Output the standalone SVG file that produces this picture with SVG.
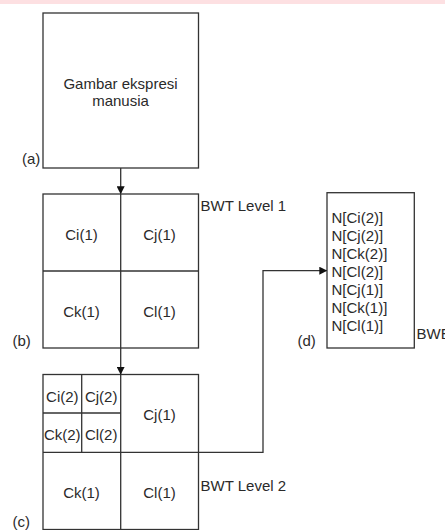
<svg xmlns="http://www.w3.org/2000/svg" width="445" height="530" viewBox="0 0 445 530">
<style>
.box{fill:#fff;stroke:#333;stroke-width:1.3}
.ln{fill:none;stroke:#333;stroke-width:1.3}
text{font-family:"Liberation Sans",Arial,sans-serif;font-size:15px;fill:#2a2a2a}
.c{text-anchor:middle}
</style>
<defs>
<marker id="ah" viewBox="0 0 10 10" refX="9" refY="5" markerWidth="8" markerHeight="8" markerUnits="userSpaceOnUse" orient="auto">
<path d="M0,0 L10,5 L0,10 Z" fill="#111"/>
</marker>
</defs>
<rect x="0" y="0" width="445" height="4" fill="#fde0e2"/>
<g id="node-a">
<rect class="box" x="43" y="13" width="155.5" height="155"/>
<text class="c" x="120.5" y="89">Gambar ekspresi</text>
<text class="c" x="120.5" y="105.5">manusia</text>
<text x="22" y="164">(a)</text>
</g>
<g id="node-b">
<rect class="box" x="43" y="194" width="155.5" height="154"/>
<line class="ln" x1="120.7" y1="194" x2="120.7" y2="348"/>
<line class="ln" x1="43" y1="271" x2="198.5" y2="271"/>
<text class="c" x="81.5" y="240">Ci(1)</text>
<text class="c" x="159.5" y="240">Cj(1)</text>
<text class="c" x="81.5" y="316.5">Ck(1)</text>
<text class="c" x="159.5" y="316.5">Cl(1)</text>
<text x="200.5" y="211">BWT Level 1</text>
<text x="12.5" y="346">(b)</text>
</g>
<g id="node-c">
<rect class="box" x="43" y="374.5" width="155.5" height="155"/>
<line class="ln" x1="120.7" y1="374.5" x2="120.7" y2="529.5"/>
<line class="ln" x1="43" y1="452.3" x2="198.5" y2="452.3"/>
<line class="ln" x1="81.7" y1="374.5" x2="81.7" y2="452.3"/>
<line class="ln" x1="43" y1="413" x2="120.7" y2="413"/>
<text class="c" x="62.3" y="402">Ci(2)</text>
<text class="c" x="101.2" y="402">Cj(2)</text>
<text class="c" x="62.3" y="440">Ck(2)</text>
<text class="c" x="101.2" y="440">Cl(2)</text>
<text class="c" x="159.5" y="420">Cj(1)</text>
<text class="c" x="81.5" y="497.5">Ck(1)</text>
<text class="c" x="159.5" y="497.5">Cl(1)</text>
<text x="200.5" y="491">BWT Level 2</text>
<text x="12.5" y="527">(c)</text>
</g>
<g id="node-d">
<rect class="box" x="327" y="192.7" width="87.3" height="155.3"/>
<text x="331.5" y="222.5">N[Ci(2)]</text>
<text x="331.5" y="240.5">N[Cj(2)]</text>
<text x="331.5" y="258.5">N[Ck(2)]</text>
<text x="331.5" y="276.5">N[Cl(2)]</text>
<text x="331.5" y="294.5">N[Cj(1)]</text>
<text x="331.5" y="312.5">N[Ck(1)]</text>
<text x="331.5" y="330.5">N[Cl(1)]</text>
<text x="416.5" y="339">BWE</text>
<text x="297.5" y="346">(d)</text>
</g>
<g id="connectors">
<line class="ln" x1="120.7" y1="168" x2="120.7" y2="193.5" marker-end="url(#ah)"/>
<line class="ln" x1="120.7" y1="348" x2="120.7" y2="374" marker-end="url(#ah)"/>
<polyline class="ln" points="198.5,452.3 263,452.3 263,270.7 326.5,270.7" marker-end="url(#ah)"/>
</g>
</svg>
